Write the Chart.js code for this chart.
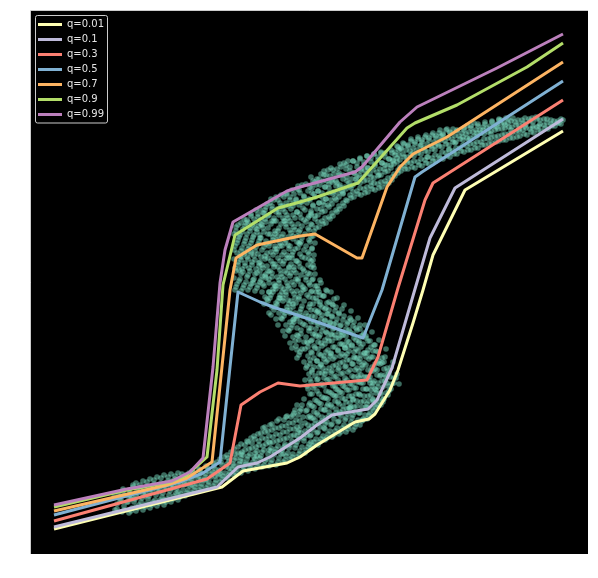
<!DOCTYPE html>
<html>
<head>
<meta charset="utf-8">
<style>html,body{margin:0;padding:0;background:#fff}#w{width:598px;height:578px}</style>
<script src="https://cdn.jsdelivr.net/npm/chart.js@4"></script>
</head>
<body>
<div id="w"><canvas id="c" width="598" height="578"></canvas></div>
<script>
// Values are read from the picture. The axes carry no numbers, so units are arbitrary.
const q01X=[23,191,212,256,269,286,319,324,338,344,359,367,382,392,402,434,532];
const q01Y=[25,67,83,91,97,109,129,132,135,140,164,184,231,264,299,364,423];
const q10X=[23,186,207,226,239,269,286,301,337,346,361,384,399,424,532];
const q10Y=[27,67,87,91,97,116,129,139,145,154,186,265,316,366,435];
const q30X=[23,176,199,210,229,247,269,336,347,367,394,402,532];
const q30Y=[33,75,91,149,162,171,168,174,197,266,354,371,454];
const q50X=[23,149,172,189,199,207,229,242,269,332,351,384,391,532];
const q50Y=[39,72,81,92,187,262,252,247,238,216,264,377,382,473];
const q70X=[23,136,156,181,199,205,226,269,284,326,331,356,369,382,416,532];
const q70Y=[43,69,76,92,264,296,309,318,320,296,296,367,387,400,417,492];
const q90X=[23,96,139,156,176,186,192,204,247,269,286,327,376,384,426,496,532];
const q90Y=[47,64,72,79,97,184,269,319,346,352,357,371,426,431,449,487,511];
const q99X=[23,96,141,159,172,182,189,194,202,256,269,324,331,369,386,466,532];
const q99Y=[49,65,73,82,96,187,271,304,332,363,367,382,387,432,447,486,520];
const labels=['q=0.01','q=0.1','q=0.3','q=0.5','q=0.7','q=0.9','q=0.99'];
const lineColors=['#ffffb3','#bebada','#fb8072','#80b1d3','#fdb462','#b3de69','#bc80bd'];

// Cloud points: the individual dots overlap too much to read one by one, so these are
// hand-estimated lists (x,y pairs) that follow the outline of the band.
const cloudLower=[84,44,86,50,83,57,87,61,91,42,93,48,90,54,94,59,92,65,98,41,101,46,97,52,100,58,98,64,102,69,105,43,108,49,104,55,107,61,109,66,105,71,112,44,115,50,111,56,114,62,116,68,112,73,119,46,122,52,118,58,121,64,123,70,119,75,126,48,129,54,125,59,128,66,130,71,126,77,133,49,136,55,132,61,135,67,137,73,133,79,140,52,143,58,139,63,142,69,144,75,140,80,147,54,150,60,146,66,149,71,151,77,147,81,154,58,157,64,153,69,156,75,158,81,161,61,164,67,160,72,163,78,161,83,168,64,171,70,167,75,170,81,168,85,175,66,178,72,174,77,177,83,175,88,182,68,185,74,181,80,184,85,182,91,189,72,192,78,188,84,191,89,189,95,196,76,199,82,195,87,198,93,196,99,203,79,206,85,202,90,205,96,207,101,203,105,210,81,213,87,209,93,212,99,214,104,210,110,217,83,220,89,216,95,219,100,221,106,217,112,220,116,224,85,227,91,223,97,226,103,228,109,224,115,227,120,231,87,234,93,230,98,233,104,235,110,231,116,234,122,232,126,238,88,241,94,237,100,240,106,242,112,238,118,241,124,239,129,245,89,248,96,244,102,247,108,249,114,245,120,248,126,246,133,252,92,255,98,251,104,254,110,256,116,252,122,255,128,253,134,256,138,259,95,262,100,258,106,261,113,263,119,259,125,262,131,260,137,263,141,266,97,269,103,265,109,268,115,270,121,266,127,269,133,267,139,270,145,266,149];
const cloudMiddle=[204,264,206,270,203,276,205,283,207,289,203,295,206,301,204,308,207,314,203,320,205,327,210,263,213,269,209,275,212,282,214,288,210,294,213,300,211,306,214,313,209,319,212,325,210,331,213,335,217,264,220,270,216,277,219,283,221,289,217,295,220,302,218,308,221,314,216,320,219,326,217,332,220,338,224,263,227,269,223,275,226,281,228,288,224,294,227,300,225,307,228,313,223,319,226,325,224,331,227,337,225,344,231,262,234,257,233,268,230,274,235,280,232,286,229,292,234,298,231,304,235,310,230,316,233,322,231,329,234,335,232,341,235,347,238,241,241,247,237,253,240,259,242,265,238,271,241,277,239,283,242,290,237,296,240,302,238,308,242,314,239,320,237,326,241,333,238,339,241,345,239,351,245,235,248,241,244,247,247,253,249,259,245,265,248,271,246,277,249,284,244,290,247,296,245,302,249,308,246,314,244,320,248,326,245,333,248,339,246,345,249,351,245,357,252,223,255,229,251,235,254,241,256,247,252,253,255,259,253,265,256,271,251,277,254,283,252,290,256,296,253,302,251,308,255,314,252,320,255,327,253,333,256,339,252,345,255,351,253,357,256,361,259,211,262,217,258,223,261,229,263,235,259,241,262,247,260,253,263,260,258,266,261,272,259,278,263,284,260,290,258,296,262,302,259,308,262,315,260,321,263,327,259,333,262,339,260,345,263,351,259,357,261,364,266,196,269,202,265,208,268,214,270,220,266,226,269,232,267,238,270,245,265,251,268,257,266,263,270,269,267,275,265,281,269,287,266,293,269,300,267,306,270,312,266,318,269,324,267,330,270,336,266,342,268,349,265,355,269,361,267,368,274,101,277,107,273,113,276,119,278,125,274,131,277,137,275,143,278,149,273,155,276,168,274,174,278,180,275,186,273,192,277,198,274,205,277,211,275,217,278,223,274,229,277,235,275,241,278,247,273,253,276,259,274,265,278,271,275,277,273,283,277,289,274,296,277,302,275,308,278,314,274,320,277,326,275,332,278,338,274,344,276,351,273,357,277,363,275,370,280,106,283,112,279,118,282,124,284,130,280,136,283,142,281,148,284,154,279,160,282,166,280,172,284,178,281,184,279,190,283,196,280,202,283,208,281,214,284,220,280,226,283,232,281,238,284,244,279,250,282,256,280,262,284,268,281,274,279,280,283,286,280,293,283,299,281,305,284,311,280,317,283,323,281,329,284,335,280,341,282,348,279,354,283,360,281,366,284,372,280,377,287,109,290,115,286,121,289,127,291,133,287,139,290,145,288,151,291,157,286,163,289,169,287,175,291,181,288,187,286,193,290,199,287,205,290,211,288,217,291,223,287,229,290,235,288,241,291,247,286,253,289,259,287,265,290,271,294,114,297,120,293,126,296,132,298,138,294,144,297,150,295,156,298,162,293,168,296,174,294,180,298,186,295,192,293,198,297,204,294,210,297,216,295,222,298,228,294,234,297,240,295,246,298,252,293,258,296,263,301,117,304,123,300,129,303,135,305,141,301,147,304,153,302,159,305,165,300,171,303,177,301,183,305,189,302,195,300,201,304,207,301,213,304,219,302,225,305,231,301,237,304,243,302,249,308,120,311,126,307,132,310,138,312,144,308,150,311,156,309,162,312,168,307,174,310,180,308,186,312,192,309,198,307,204,311,210,308,216,311,222,309,228,312,234,308,240,311,245,315,122,318,128,314,134,317,140,319,146,315,152,318,158,316,164,319,170,314,176,317,182,315,188,319,194,316,200,314,206,318,212,315,218,318,224,316,230,319,236,322,124,325,130,321,136,324,142,326,148,322,154,325,160,323,166,326,172,321,178,324,184,322,190,326,196,323,202,321,208,325,214,322,220,325,226,323,232,329,129,332,135,328,141,331,147,333,153,329,159,332,165,330,171,333,177,328,183,331,189,329,195,333,201,330,207,328,213,332,219,329,225,336,135,339,141,335,147,338,153,340,159,336,165,339,171,337,177,340,183,335,189,338,195,336,201,340,207,337,213,335,218,343,143,346,149,342,155,345,161,347,167,343,173,346,179,344,185,347,191,342,197,345,203,343,209,350,149,353,155,349,161,352,167,354,173,350,179,353,185,351,191,354,197,357,159,360,165,356,171,359,177,357,183,360,187,363,171,365,176];
const cloudUpper=[288,327,291,333,287,339,290,345,288,351,291,357,287,363,289,369,286,375,290,380,295,331,298,337,294,343,297,349,295,355,298,361,294,367,296,373,293,379,297,384,302,338,305,344,301,350,304,356,302,362,305,368,301,374,303,380,300,386,309,345,312,351,308,357,311,363,309,369,312,375,308,381,310,387,316,353,319,359,315,365,318,371,316,377,319,383,315,389,317,393,323,357,326,363,322,369,325,375,323,381,326,387,322,393,330,359,333,365,329,371,332,377,330,383,333,389,329,395,337,362,340,368,336,374,339,380,337,386,340,392,336,398,344,364,347,370,343,376,346,382,344,388,347,394,343,400,351,367,354,373,350,379,353,385,351,391,354,397,350,402,358,371,361,377,357,383,360,389,358,395,361,401,364,378,367,384,363,390,366,396,364,402,367,407,370,383,373,388,369,394,372,400,370,406,373,410,377,385,380,391,376,397,379,403,377,409,380,413,384,386,387,392,383,398,386,404,384,410,387,415,391,388,394,394,390,400,393,406,391,412,394,417,398,390,401,396,397,402,400,408,398,414,401,419,405,393,408,398,404,404,407,410,405,416,408,421,412,395,415,401,411,407,414,413,412,419,415,424,419,397,422,403,418,409,421,415,419,421,422,425,426,400,429,406,425,412,428,418,426,424,433,402,436,408,432,414,435,420,433,426,440,404,443,410,439,416,442,422,440,428,447,406,450,412,446,418,449,424,447,430,454,409,457,415,453,420,456,426,454,432,461,411,464,417,460,423,463,428,461,433,468,413,471,419,467,425,470,430,468,435,475,414,478,420,474,426,477,431,475,436,482,416,485,422,481,427,484,432,482,436,489,418,492,424,488,429,491,434,496,419,499,425,495,430,498,435,503,421,506,427,502,432,505,437,510,423,513,429,509,434,517,425,520,430,516,435,524,428,527,433,530,430,532,434];
const cloudExtraLower=[86,45,89,53,90,58,93,44,96,52,98,57,92,63,100,43,103,52,105,58,99,61,102,67,107,46,110,52,112,60,106,64,109,69,114,47,117,55,119,61,113,65,116,72,121,49,124,54,126,63,120,68,123,74,128,51,131,57,133,65,127,68,130,76,135,52,138,59,140,66,134,71,137,77,142,55,145,61,147,69,141,73,144,78,149,57,152,64,154,70,148,75,151,80,156,61,159,68,161,74,155,79,163,64,166,70,168,78,162,82,170,67,173,74,175,80,169,84,177,69,180,77,182,82,176,87,184,71,187,79,189,83,183,88,186,92,191,75,194,81,196,90,190,92,193,97,198,79,201,85,203,94,197,96,200,102,205,81,208,90,210,96,204,100,207,107,212,84,215,90,217,98,211,102,214,109,216,113,219,86,222,92,224,101,218,105,221,111,223,118,226,88,229,96,231,102,225,107,228,113,230,121,233,89,236,95,238,104,232,108,235,115,237,123,234,127,240,91,243,99,245,105,239,111,242,117,244,126,241,130,247,92,250,100,252,106,246,113,249,119,251,128,248,135,254,94,257,101,259,109,253,115,256,122,258,131,255,137,261,97,264,106,266,112,260,118,263,125,265,134,262,139,264,144,268,100,271,107,273,116,267,122,270,128,272,137,269,143,271,149];
const cloudExtraMiddle=[205,267,208,273,210,280,204,286,207,292,209,298,203,304,206,311,208,317,205,323,207,329,212,266,215,272,217,279,211,285,214,291,216,297,210,303,213,310,215,316,211,322,214,328,216,334,219,267,222,274,224,280,218,286,221,292,223,298,217,305,220,311,222,317,219,323,221,329,223,335,220,340,226,266,229,272,231,278,225,285,228,291,230,297,224,303,227,310,229,316,226,322,228,328,230,334,227,340,229,345,233,250,236,255,238,262,232,270,235,276,237,283,231,289,234,295,236,301,233,307,235,313,237,320,232,326,235,332,237,338,234,344,236,350,240,239,243,244,245,251,239,256,242,262,244,268,238,275,241,281,243,287,240,293,242,299,244,305,239,311,242,317,244,323,240,330,243,336,245,342,241,348,243,354,247,229,250,236,252,243,246,249,249,256,251,262,245,268,248,274,250,280,247,287,249,293,251,299,246,305,249,311,251,317,247,323,250,330,252,336,248,342,250,348,247,354,250,359,254,218,257,224,259,232,253,238,256,244,258,250,252,256,255,262,257,268,254,275,256,281,258,287,253,293,256,299,258,305,254,311,257,317,259,324,255,330,257,336,254,342,257,348,259,354,255,360,261,206,264,213,266,219,260,226,263,232,265,238,259,244,262,250,264,256,261,263,263,269,265,275,260,281,263,287,265,293,261,299,264,305,266,312,262,318,264,324,261,330,264,336,266,342,262,348,265,354,263,360,266,365,268,199,271,205,273,212,267,218,270,224,272,230,266,236,269,242,271,248,268,255,270,261,272,267,267,273,270,279,272,285,268,291,271,297,273,304,269,310,271,316,268,322,271,328,273,334,269,340,272,346,270,352,273,358,268,364,271,369,275,104,278,110,280,119,274,123,277,129,279,138,276,144,279,151,281,160,277,165,279,175,281,182,276,188,279,194,281,201,277,207,280,213,282,220,278,226,280,232,277,238,280,244,282,250,278,257,281,263,279,269,282,275,277,281,280,287,282,294,278,300,281,306,279,312,282,318,278,324,280,330,277,336,280,343,282,349,278,355,281,361,279,367,282,373,282,108,285,115,287,122,281,128,284,134,286,141,283,147,286,153,288,160,284,168,286,174,288,181,283,187,286,193,288,200,284,206,287,212,289,219,285,225,287,231,284,237,287,243,289,249,285,256,288,262,286,268,289,274,284,280,285,326,287,332,284,338,286,345,288,351,284,357,287,363,285,369,288,375,289,112,292,118,294,125,288,131,291,137,293,144,290,150,293,156,295,163,291,170,293,176,295,183,290,189,293,195,295,202,291,208,294,214,296,221,292,227,294,233,291,239,294,245,296,251,292,258,295,264,292,330,294,336,291,342,293,349,295,355,291,361,294,367,292,373,295,379,293,383,296,116,299,123,301,130,295,136,298,142,300,149,297,155,300,161,302,168,298,175,300,181,302,188,297,194,300,200,302,207,298,213,301,219,303,226,299,232,301,238,298,244,301,250,303,255,299,335,301,341,298,347,300,354,302,360,298,366,301,372,299,378,302,384,303,119,306,126,308,133,302,139,305,145,307,152,304,158,307,164,309,171,305,178,307,184,309,191,304,197,307,203,309,210,305,216,308,222,310,229,306,235,308,241,305,247,306,342,308,348,305,354,307,361,309,367,305,373,308,379,306,385,309,390,310,122,313,129,315,136,309,142,312,148,314,155,311,161,314,167,316,174,312,181,314,187,316,194,311,200,314,206,316,213,312,219,315,225,317,232,313,238,313,348,315,354,312,360,314,367,316,373,312,379,315,385,313,391,317,125,320,132,322,139,316,145,319,151,321,158,318,164,321,170,323,177,319,184,321,190,323,197,318,203,321,209,323,216,319,222,322,228,320,234,320,356,322,362,319,368,321,375,323,381,319,387,322,393,324,127,327,134,329,141,323,147,326,153,328,160,325,166,328,172,330,179,326,186,328,192,330,199,325,205,328,211,330,218,326,224,329,229,327,360,329,366,326,372,328,379,330,385,326,391,329,396,331,133,334,139,336,146,330,152,333,158,335,165,332,171,335,177,337,184,333,191,335,197,337,204,332,210,335,216,333,221,334,361,336,367,333,373,335,380,337,386,333,392,336,398,338,139,341,146,343,152,337,158,340,164,342,171,339,177,342,183,344,190,340,197,342,203,344,209,339,213,341,365,343,371,340,377,342,384,344,390,340,396,343,400,345,147,348,153,350,160,344,165,347,171,349,178,346,184,349,190,351,196,347,202,348,366,350,372,347,378,349,385,351,391,347,397,350,401,352,155,355,161,357,168,351,173,354,179,356,186,353,192,355,370,357,376,354,382,356,389,358,395,354,401,358,163,361,170,363,176,358,181,361,374,363,380,360,386,362,393,364,399,360,404];
const cloudExtraUpper=[367,381,369,387,366,392,368,399,370,405,366,408,374,385,376,391,373,397,375,404,377,408,372,411,381,387,383,393,380,399,382,406,384,412,380,415,388,389,390,395,387,401,389,408,391,414,387,417,395,391,397,397,394,403,396,410,398,416,395,419,402,393,404,399,401,405,403,412,405,418,402,421,409,396,411,402,408,408,410,414,412,420,409,424,416,398,418,404,415,410,417,416,419,422,416,425,423,400,425,406,422,412,424,418,426,423,430,403,432,409,429,415,431,421,433,424,437,404,439,410,436,416,438,422,440,426,436,428,444,406,446,412,443,418,445,424,447,428,443,431,451,409,453,415,450,421,452,427,454,430,458,410,460,416,457,422,459,428,461,432,465,412,467,418,464,424,466,430,468,434,472,414,474,420,471,425,473,431,470,434,479,416,481,421,478,427,480,433,477,435,486,417,488,423,485,429,487,434,493,420,495,426,492,431,494,436,500,422,502,428,499,433,501,436,507,424,509,430,506,435,514,426,516,431,513,435,521,428,523,433,520,434,528,431,530,435,526,431];
const cloudFill=[208,284,215,302,222,271,229,319,236,288,243,333,250,267,257,309,264,241,271,352,278,295,285,218,292,186,299,231,306,158,313,209,320,147,327,178,334,201,341,168,348,193,355,177,215,331,229,283,243,270,257,254,271,238,285,262,299,198,313,172,327,203,341,187,210,297,224,326,238,262,252,348,266,204,280,339,233,341,247,318,261,296,275,274,289,252,303,230,317,208,331,186,345,164,240,355,254,333,268,311,282,289,296,240,310,218,324,196,338,174,352,152,220,300,234,278,248,256,262,234,276,212,290,190,304,168,318,146,332,134,230,330,244,308,258,286,272,264,286,242,300,220,314,198,328,176,342,154,210,100,224,95,238,112,252,100,266,118,280,112,294,130,308,140,322,155,336,150,100,55,114,58,128,62,142,66,156,70,170,74,184,78,198,86,212,92,226,98,240,103,254,108,268,124,282,136,296,148,105,47,119,50,133,54,147,62,161,69,175,74,189,80,203,88,217,90,292,352,306,371,320,366,334,384,348,379,362,394,376,393,390,409,404,408,418,405,432,417,446,421,460,420,474,429,488,425,502,426,298,370,312,361,326,377,340,372,354,389,368,404,382,401,396,397,410,418,424,411,438,414,452,424,466,427,480,424,494,428,508,428,300,262,306,256,313,249,320,243,327,236,334,229,341,222,348,214,355,205,362,192,366,180,368,170];

const xMax=557, yMax=543;
const seriesX=[q01X,q10X,q30X,q50X,q70X,q90X,q99X];
const seriesY=[q01Y,q10Y,q30Y,q50Y,q70Y,q90Y,q99Y];
function pairs(flat){const o=[];for(let i=0;i<flat.length;i+=2)o.push({x:flat[i],y:flat[i+1]});return o;}
const lineSets=labels.map((l,i)=>({
  type:'line',label:l,data:seriesX[i].map((x,j)=>({x,y:seriesY[i][j]})),
  borderColor:lineColors[i],backgroundColor:lineColors[i],borderWidth:3,
  pointRadius:0,tension:0,fill:false,order:7-i,borderJoinStyle:'round',borderCapStyle:'butt'
}));
const cloudAll=[cloudLower,cloudMiddle,cloudUpper,cloudExtraLower,cloudExtraMiddle,cloudExtraUpper,cloudFill].flatMap(pairs);
const cloudSet={type:'scatter',label:'data',data:cloudAll,
  backgroundColor:'rgba(120,215,190,0.5)',borderWidth:0,pointRadius:2.8,order:20};

const frame={id:'frame',
  beforeDraw(ch){const a=ch.chartArea,g=ch.ctx;g.save();g.fillStyle='#000';g.fillRect(a.left,a.top,a.width,a.height);
    g.strokeStyle='#ccc';g.lineWidth=1;g.beginPath();g.moveTo(a.left-.5,a.bottom);g.lineTo(a.left-.5,a.top-.5);g.lineTo(a.right,a.top-.5);g.stroke();
    g.beginPath();g.roundRect(35.5,15.5,72,107.5,2);g.stroke();g.restore();
    ch.legend.left=33;ch.legend.top=14.5;}
};
new Chart(document.getElementById('c'),{
  data:{datasets:[...lineSets,cloudSet]},
  options:{responsive:false,animation:false,devicePixelRatio:1,
    layout:{padding:{left:31,right:10,top:11,bottom:24}},
    scales:{x:{type:'linear',min:0,max:xMax,display:false},y:{type:'linear',min:0,max:yMax,display:false}},
    plugins:{tooltip:{enabled:false},
      legend:{position:'chartArea',align:'start',
        labels:{boxWidth:24,boxHeight:3,padding:5,color:'#e4e4e4',font:{family:'DejaVu Sans',size:10},
          sort:(a,b)=>a.datasetIndex-b.datasetIndex,
          generateLabels:(ch)=>Chart.defaults.plugins.legend.labels.generateLabels(ch).map(it=>({...it,lineWidth:0})),
          filter:(it)=>it.text!=='data'}}}
  },
  plugins:[frame]
});
</script>
</body>
</html>
